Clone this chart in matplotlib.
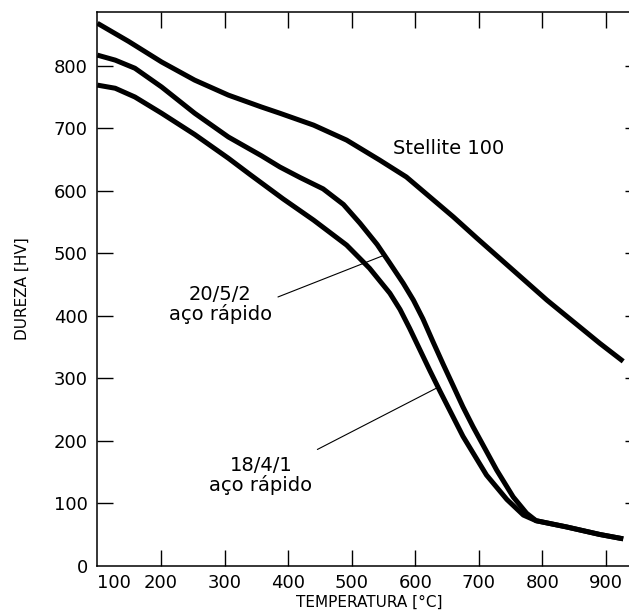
import matplotlib
matplotlib.use("Agg")
import matplotlib.pyplot as plt

# -----------------------------------------------------------------------------
# Data (temperature in degC, hardness in HV)
# -----------------------------------------------------------------------------
stellite_t = [100, 149, 201, 253, 306, 358, 387, 440, 492, 544, 586, 623, 660, 697, 807, 890, 927]
stellite_hv = [868, 839, 806, 777, 753, 734, 724, 705, 681, 649, 622, 590, 558, 524, 425, 356, 327]

hss_2052_t = [100, 128, 159, 201, 253, 306, 358, 387, 419, 455, 487, 513, 540, 560, 581, 597,
              612, 628, 644, 660, 675, 691, 728, 754, 775, 790, 838, 890, 927]
hss_2052_hv = [817, 809, 796, 766, 724, 686, 656, 638, 621, 603, 578, 548, 514, 484, 452, 425,
               395, 358, 322, 287, 254, 222, 153, 110, 84, 72, 62, 50, 43]

hss_1841_t = [100, 128, 159, 201, 253, 306, 340, 392, 440, 492, 528, 560, 576, 591, 607, 623,
              639, 654, 675, 712, 744, 770, 790, 838, 890, 927]
hss_1841_hv = [769, 764, 750, 724, 690, 652, 626, 587, 553, 513, 476, 436, 410, 380, 346, 312,
               279, 249, 207, 145, 106, 81, 72, 62, 50, 43]

x_ticks = [100, 200, 300, 400, 500, 600, 700, 800, 900]
y_ticks = [0, 100, 200, 300, 400, 500, 600, 700, 800]

# labels: (text, x, y) and leader lines (start, end)
label_stellite = ("Stellite 100", 565, 668)
label_2052 = ("20/5/2\naço rápido", 293, 418)
label_1841 = ("18/4/1\naço rápido", 357, 145)
leader_2052 = ((384, 430), (549, 496))
leader_1841 = ((446, 186), (633, 284))

# -----------------------------------------------------------------------------
fig = plt.figure(figsize=(6.29, 6.15), dpi=100)
ax = fig.add_axes([97.4 / 629, 49.3 / 615, (641 - 97.4) / 629, (565.7 - 12) / 615])

curve_kw = dict(color="black", lw=3.6, solid_joinstyle="round", solid_capstyle="butt")
ax.plot(stellite_t, stellite_hv, **curve_kw)
ax.plot(hss_2052_t, hss_2052_hv, **curve_kw)
ax.plot(hss_1841_t, hss_1841_hv, **curve_kw)

ax.set_xlim(100, 955)
ax.set_ylim(0, 886)

ax.set_xticks(x_ticks)
ax.set_xticklabels([str(t) for t in x_ticks])
ax.set_yticks(y_ticks)
ax.set_yticklabels([str(t) for t in y_ticks])
ax.get_xticklabels()[0].set_horizontalalignment("left")

ax.tick_params(axis="both", direction="in", length=11.5, width=1.0, labelsize=13,
               top=True, right=True, pad=6)
ax.tick_params(axis="y", pad=7)

# the first tick of each axis sits on a spine: hide its mark, keep its label
for tk in (ax.xaxis.get_major_ticks()[0], ax.yaxis.get_major_ticks()[0]):
    tk.tick1line.set_visible(False)
    tk.tick2line.set_visible(False)

for s in ax.spines.values():
    s.set_linewidth(1.1)

ax.set_xlabel("TEMPERATURA [°C]", fontsize=11, labelpad=2)
ax.set_ylabel("DUREZA [HV]", fontsize=11, labelpad=17)

txt_kw = dict(fontsize=14, color="black")
ax.text(label_stellite[1], label_stellite[2], label_stellite[0], ha="left", va="center", **txt_kw)
ax.text(label_2052[1], label_2052[2], label_2052[0], ha="center", va="center",
        linespacing=1.0, **txt_kw)
ax.text(label_1841[1], label_1841[2], label_1841[0], ha="center", va="center",
        linespacing=1.0, **txt_kw)

for start, end in (leader_2052, leader_1841):
    ax.annotate("", xy=end, xytext=start,
                arrowprops=dict(arrowstyle="-", lw=0.8, color="black", shrinkA=0, shrinkB=0))

fig.savefig("out.png", dpi=100)
plt.close(fig)
